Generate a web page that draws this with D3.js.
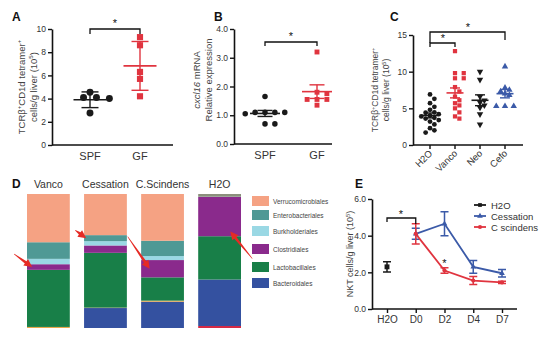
<!DOCTYPE html>
<html>
<head>
<meta charset="utf-8">
<script src="https://cdn.jsdelivr.net/npm/d3@7"></script>
<style>
body{margin:0;background:#fff}
svg{font-family:"Liberation Sans",Arial,sans-serif;display:block}
</style>
</head>
<body>
<div class="fig"></div>
<script>
//panel A data
var aGroups = ["SPF","GF"];
var aSPF = [4.55,4.1,4.1,4.0,2.75];
var aGF = [9.3,8.6,6.3,5.7,4.2];
var aTicks = [0,2,4,6,8,10];

//panel B data
var bGroups = ["SPF","GF"];
var bSPF = [1.65,1.1,1.1,1.1,1.1,1.05,0.7,0.7];
var bGF = [3.2,1.8,1.75,1.55,1.55,1.55,1.35];
var bTicks = [0,1,2,3,4];

//panel C data
var cGroups = ["H2O","Vanco","Neo","Cefo"];
var cH2O = [6.9,6.3,5.7,5.2,4.8,4.45,4.4,4.2,4.0,3.9,3.7,3.6,3.4,3.2,2.8,2.3,2.0,1.7];
var cVanco = [12.8,9.8,9.8,9.1,9.1,7.9,7.3,6.6,6.1,5.7,5.4,5.0,4.45,3.9,3.6];
var cNeo = [10.0,8.9,6.6,6.1,5.8,5.4,5.1,4.2,2.8];
var cCefo = [10.7,7.8,7.5,7.3,7.0,6.8,5.3,5.3,5.3];
var cTicks = [0,5,10,15];

//panel D data (percent, bottom to top)
var dGroups = ["Vanco","Cessation","C.Scindens","H2O"];
var dKeys = ["minorRed","Bacteroidales","minorOrange","Lactobacillales","Clostridiales","Burkholderiales","Enterobacteriales","Verrucomicrobiales","minorGray"];
var dVanco     = [0,   0,    0.8, 42.6, 4.2,  4.0, 12.4, 36.0, 0];
var dCessation = [0,   14.9, 0.3, 40.9, 5.5,  3.2, 4.5,  30.7, 0];
var dScindens  = [0,   19.6, 0.8, 17.4, 12.9, 3.0, 11.4, 34.9, 0];
var dH2O       = [1.5, 34.7, 0,   32.3, 29.3, 0,   0.2,  0,    2.0];
var dLegend = ["Verrucomicrobiales","Enterobacteriales","Burkholderiales","Clostridiales","Lactobacillales","Bacteroidales"];

//panel E data
var eDays = ["H2O","D0","D2","D4","D7"];
var eH2O = [2.3];
var eH2OErr = [0.28];
var eCessation = [4.1,4.65,2.3,1.95];
var eCessationErr = [0.3,0.65,0.35,0.2];
var eScindens = [4.1,2.1,1.55,1.45];
var eScindensErr = [0.55,0.15,0.22,0.06];
var eTicks = [0,2,4,6];

var RED = "#e0343f", BLUE = "#3b5aa8", BLACK = "#1a1a1a";
var colors = {
  minorRed:"#d42a45", Bacteroidales:"#3451a0", minorOrange:"#e8a64a",
  Lactobacillales:"#187f48", Clostridiales:"#8a2a8c", Burkholderiales:"#9ad8e4",
  Enterobacteriales:"#4f9995", Verrucomicrobiales:"#f5a283", minorGray:"#8b8f7c"
};

var W = 554, H = 339;
var svg = d3.select("div.fig").append("svg").attr("width", W).attr("height", H);
svg.append("rect").attr("width", W).attr("height", H).attr("fill", "#fff");

//rotated y label, parts: [text, "sup"|"it"|""]
function rotLabel(x, y, parts, size){
  var t = svg.append("text")
      .attr("transform", "translate(" + x + "," + y + ") rotate(-90)")
      .attr("text-anchor", "middle").attr("font-size", size).attr("fill", "#444");
  var up = false;
  parts.forEach(function(p){
    var s = t.append("tspan").text(p[0]);
    if(p[1] == "sup"){
      s.attr("font-size", size * 0.65).attr("dy", -size * 0.38);
      up = true;
    } else if(up){
      s.attr("dy", size * 0.38);
      up = false;
    }
    if(p[1] == "it") s.attr("font-style", "italic");
  });
}

function panelLetter(x, y, s){
  svg.append("text").attr("x", x).attr("y", y).attr("font-size", 12)
     .attr("font-weight", "bold").attr("fill", "#111").text(s);
}

//simple beeswarm offset so points don't overlap
function dodge(vals, y, r){
  var placed = [];
  return vals.map(function(v){
    var py = y(v), k = 0, dx = 0;
    while(k < 40){
      dx = (k % 2 == 1 ? 1 : -1) * Math.ceil(k / 2) * r * 1.9;
      var hit = placed.some(function(p){
        return (p[0] - dx) * (p[0] - dx) + (p[1] - py) * (p[1] - py) < (2 * r) * (2 * r);
      });
      if(!hit) break;
      k++;
    }
    placed.push([dx, py]);
    return dx;
  });
}

function yAxis(g, y, ax, ticks){
  var a = g.append("g").attr("transform", "translate(" + ax + ",0)")
     .call(d3.axisLeft(y).tickValues(ticks).tickSize(4).tickSizeOuter(0).tickPadding(2));
  a.select(".domain").attr("stroke", "#111").attr("stroke-width", 1.6);
  a.selectAll(".tick line").attr("stroke", "#111").attr("stroke-width", 1.4);
  a.selectAll(".tick text").attr("font-size", 8.5).attr("fill", "#333")
     .attr("font-family", "Liberation Sans, Arial, sans-serif");
  return a;
}

function bracket(x1, x2, yTop, l1, l2, sx, sy){
  svg.append("path")
     .attr("d", "M" + x1 + "," + l1 + "V" + yTop + "H" + x2 + "V" + l2)
     .attr("fill", "none").attr("stroke", "#111").attr("stroke-width", 1.3);
  svg.append("text").attr("x", sx).attr("y", sy).attr("text-anchor", "middle")
     .attr("font-size", 11).attr("fill", "#111").text("*");
}

function scatterPanel(o){
  var g = svg.append("g");
  var y = d3.scaleLinear().domain([0, o.max]).range([o.y0, o.y1]);
  var x = d3.scalePoint().domain(o.groups).range(o.xr);
  yAxis(g, y, o.ax, o.ticks);
  g.append("line").attr("x1", o.ax).attr("x2", o.axEnd).attr("y1", o.y0).attr("y2", o.y0)
   .attr("stroke", "#111").attr("stroke-width", 1.6);
  if(o.xTicks){
    g.selectAll(".xt").data(o.groups).enter().append("line")
     .attr("x1", function(d){ return x(d); }).attr("x2", function(d){ return x(d); })
     .attr("y1", o.y0).attr("y2", o.y0 + 4).attr("stroke", "#111").attr("stroke-width", 1.4);
  }
  o.groups.forEach(function(grp, i){
    var vals = o.data[i];
    var dx = dodge(vals, y, o.r);
    var sym = d3.symbol().type(o.shapes[i]).size(o.size);
    g.selectAll(".pt" + i).data(vals).enter().append("path")
     .attr("d", sym)
     .attr("transform", function(d, j){
       return "translate(" + (x(grp) + dx[j]) + "," + y(d) + ")" + (o.flip[i] ? " rotate(180)" : "");
     })
     .attr("fill", o.colors[i]);
    var m = d3.mean(vals);
    var e = d3.deviation(vals);
    if(o.err == "sem") e = e / Math.sqrt(vals.length);
    var cx = x(grp);
    g.append("line").attr("x1", cx - o.mw / 2).attr("x2", cx + o.mw / 2)
     .attr("y1", y(m)).attr("y2", y(m)).attr("stroke", o.colors[i]).attr("stroke-width", 1.6);
    g.append("line").attr("x1", cx).attr("x2", cx).attr("y1", y(m - e)).attr("y2", y(m + e))
     .attr("stroke", o.colors[i]).attr("stroke-width", 1.4);
    [m - e, m + e].forEach(function(v){
      g.append("line").attr("x1", cx - o.cw / 2).attr("x2", cx + o.cw / 2)
       .attr("y1", y(v)).attr("y2", y(v)).attr("stroke", o.colors[i]).attr("stroke-width", 1.4);
    });
  });
  return {x: x, y: y};
}

// ---------- A ----------
panelLetter(12, 21, "A");
var A = scatterPanel({
  groups: aGroups, data: [aSPF, aGF], max: 10, ticks: aTicks,
  y0: 145, y1: 29, xr: [90, 140], ax: 52, axEnd: 173,
  shapes: [d3.symbolCircle, d3.symbolSquare], flip: [false, false],
  colors: [BLACK, RED], size: 38, r: 3.4, err: "sd", mw: 33, cw: 17
});
svg.selectAll(".alab").data(aGroups).enter().append("text")
   .attr("x", function(d){ return A.x(d); }).attr("y", 160)
   .attr("text-anchor", "middle").attr("font-size", 11).attr("fill", "#333").text(function(d){ return d; });
rotLabel(25, 87, [["TCRβ",""],["+","sup"],["CD1d tetramer",""],["+","sup"]], 9.5);
rotLabel(37, 87, [["cells/g liver (10",""],["5","sup"],[")",""]], 9.5);
bracket(A.x("SPF"), A.x("GF"), 29, 34, 34, 115, 27);

// ---------- B ----------
panelLetter(214, 21, "B");
var B = scatterPanel({
  groups: bGroups, data: [bSPF, bGF], max: 4, ticks: bTicks,
  y0: 144, y1: 29, xr: [265, 317], ax: 234, axEnd: 332,
  shapes: [d3.symbolCircle, d3.symbolSquare], flip: [false, false],
  colors: [BLACK, RED], size: 24, r: 2.6, err: "sem", mw: 30, cw: 15
});
svg.selectAll(".blab").data(bGroups).enter().append("text")
   .attr("x", function(d){ return B.x(d); }).attr("y", 159)
   .attr("text-anchor", "middle").attr("font-size", 11).attr("fill", "#333").text(function(d){ return d; });
rotLabel(200, 80, [["cxcl16","it"],[" mRNA",""]], 9.5);
rotLabel(212, 80, [["Relative expression",""]], 9.5);
bracket(B.x("SPF"), B.x("GF"), 42, 46, 46, 291, 40);

// ---------- C ----------
panelLetter(390, 21, "C");
var C = scatterPanel({
  groups: cGroups, data: [cH2O, cVanco, cNeo, cCefo], max: 15, ticks: cTicks,
  y0: 145, y1: 35, xr: [430, 505], ax: 413, axEnd: 523, xTicks: true,
  shapes: [d3.symbolCircle, d3.symbolSquare, d3.symbolTriangle, d3.symbolTriangle],
  flip: [false, false, true, false],
  colors: [BLACK, RED, BLACK, BLUE], size: 18, r: 2.3, err: "sem", mw: 17, cw: 10
});
svg.selectAll(".clab").data(cGroups).enter().append("text")
   .attr("transform", function(d){ return "translate(" + (C.x(d) + 3) + ",154) rotate(-45)"; })
   .attr("text-anchor", "end").attr("font-size", 9.5).attr("fill", "#333").text(function(d){ return d; });
rotLabel(378, 90, [["TCRβ",""],["+","sup"],["CD1d tetramer",""],["+","sup"]], 8.5);
rotLabel(389, 90, [["cells/g liver (10",""],["5","sup"],[")",""]], 8.5);
bracket(C.x("H2O"), C.x("Cefo"), 32, 43, 40, 468, 31);
bracket(C.x("H2O"), C.x("Vanco"), 43, 47, 47, 443, 42);

// ---------- D ----------
panelLetter(12, 188, "D");
var dRows = dGroups.map(function(gname, i){
  var arr = [dVanco, dCessation, dScindens, dH2O][i];
  var row = {group: gname};
  dKeys.forEach(function(k, j){ row[k] = arr[j]; });
  return row;
});
var dx = d3.scaleBand().domain(dGroups).range([27, 241]).paddingInner(0.25).paddingOuter(0);
var dy = d3.scaleLinear().domain([0, 100]).range([328, 194]);
var stack = d3.stack().keys(dKeys)(dRows);
var gD = svg.append("g");
gD.selectAll(".layer").data(stack).enter().append("g")
  .attr("fill", function(d){ return colors[d.key]; })
  .selectAll("rect").data(function(d){ return d; }).enter().append("rect")
  .attr("x", function(d){ return dx(d.data.group); })
  .attr("width", dx.bandwidth())
  .attr("y", function(d){ return dy(d[1]); })
  .attr("height", function(d){ return Math.max(0, dy(d[0]) - dy(d[1])); });
gD.selectAll(".dh").data(dGroups).enter().append("text")
  .attr("x", function(d){ return dx(d) + dx.bandwidth() / 2; }).attr("y", 188)
  .attr("text-anchor", "middle").attr("font-size", 10.5).attr("fill", "#333")
  .text(function(d){ return d; });

//legend
var leg = svg.append("g").selectAll("g").data(dLegend).enter().append("g")
  .attr("transform", function(d, i){ return "translate(252," + [196, 210, 226, 244, 262, 278][i] + ")"; });
leg.append("rect").attr("width", 17).attr("height", 10).attr("fill", function(d){ return colors[d]; });
leg.append("text").attr("x", 21).attr("y", 7.5).attr("font-size", 6.5).attr("fill", "#444")
   .text(function(d){ return d; });

//red arrows pointing at segments
function segMid(group, key){
  var s = stack.find(function(l){ return l.key == key; });
  var d = s[dGroups.indexOf(group)];
  return (dy(d[0]) + dy(d[1])) / 2;
}
var arrows = [
  {g: "Vanco", key: "Clostridiales", fx: 0.12, tx: -18, ty: -13, sh: 0},
  {g: "Cessation", key: "Enterobacteriales", fx: 0.05, tx: -11, ty: -8, sh: 0},
  {g: "C.Scindens", key: "Clostridiales", fx: 0.2, tx: -22, ty: -32, sh: 0},
  {g: "H2O", key: "Clostridiales", fx: 0.75, tx: 22, ty: 27, sh: 15}
];
var gA = svg.append("g");
arrows.forEach(function(a){
  var tipX = dx(a.g) + a.fx * dx.bandwidth();
  var tipY = segMid(a.g, a.key) + a.sh;
  var sx = tipX + a.tx, sy = tipY + a.ty;
  var ang = Math.atan2(tipY - sy, tipX - sx);
  var hl = 8, hw = 4;
  var bx = tipX - hl * Math.cos(ang), by = tipY - hl * Math.sin(ang);
  var px = -Math.sin(ang), py = Math.cos(ang);
  //tapered shaft plus head
  gA.append("path")
    .attr("d", "M" + (sx + px * 0.3) + "," + (sy + py * 0.3) +
               "L" + (bx + px * 1.4) + "," + (by + py * 1.4) +
               "L" + (bx + px * hw) + "," + (by + py * hw) +
               "L" + tipX + "," + tipY +
               "L" + (bx - px * hw) + "," + (by - py * hw) +
               "L" + (bx - px * 1.4) + "," + (by - py * 1.4) +
               "L" + (sx - px * 0.3) + "," + (sy - py * 0.3) + "Z")
    .attr("fill", "#e52b25");
});

// ---------- E ----------
panelLetter(355, 188, "E");
var ex = d3.scalePoint().domain(eDays).range([387, 502]);
var ey = d3.scaleLinear().domain([0, 6]).range([309, 199]);
var gE = svg.append("g");
yAxis(gE, ey, 372, eTicks);
gE.append("line").attr("x1", 372).attr("x2", 517).attr("y1", 309).attr("y2", 309)
  .attr("stroke", "#111").attr("stroke-width", 1.6);
var xa = gE.append("g").attr("transform", "translate(0,309)")
  .call(d3.axisBottom(ex).tickSize(4).tickSizeOuter(0).tickPadding(3));
xa.select(".domain").remove();
xa.selectAll(".tick line").attr("stroke", "#111").attr("stroke-width", 1.4);
xa.selectAll(".tick text").attr("font-size", 10).attr("fill", "#333")
  .attr("font-family", "Liberation Sans, Arial, sans-serif");
rotLabel(353, 254, [["NKT cells/g liver (10",""],["5","sup"],[")",""]], 9);

function series(vals, errs, days, color, shape, size){
  var pts = vals.map(function(v, i){ return {d: days[i], v: v, e: errs[i]}; });
  var line = d3.line().x(function(p){ return ex(p.d); }).y(function(p){ return ey(p.v); });
  gE.append("path").datum(pts).attr("d", line).attr("fill", "none")
    .attr("stroke", color).attr("stroke-width", 1.8);
  pts.forEach(function(p){
    var cx = ex(p.d);
    gE.append("path").attr("d", "M" + cx + "," + ey(p.v - p.e) + "V" + ey(p.v + p.e) +
        "M" + (cx - 4) + "," + ey(p.v - p.e) + "h8M" + (cx - 4) + "," + ey(p.v + p.e) + "h8")
      .attr("stroke", color).attr("stroke-width", 1.5).attr("fill", "none");
    gE.append("path").attr("d", d3.symbol().type(shape).size(size))
      .attr("transform", "translate(" + cx + "," + ey(p.v) + ")").attr("fill", color);
  });
}
series(eCessation, eCessationErr, eDays.slice(1), BLUE, d3.symbolTriangle, 14);
series(eScindens, eScindensErr, eDays.slice(1), RED, d3.symbolCircle, 14);
series(eH2O, eH2OErr, ["H2O"], BLACK, d3.symbolSquare, 24);

bracket(ex("H2O"), ex("D0"), 218, 222, 224, 401, 218);
gE.append("text").attr("x", ex("D2")).attr("y", 267).attr("text-anchor", "middle")
  .attr("font-size", 11).attr("fill", "#111").text("*");

//legend E
var eLeg = [["H2O", BLACK, d3.symbolSquare], ["Cessation", BLUE, d3.symbolTriangle], ["C scindens", RED, d3.symbolCircle]];
var el = svg.append("g").selectAll("g").data(eLeg).enter().append("g")
  .attr("transform", function(d, i){ return "translate(474," + (205 + i * 11) + ")"; });
el.append("line").attr("x1", 0).attr("x2", 12).attr("stroke", function(d){ return d[1]; }).attr("stroke-width", 1.8);
el.append("path").attr("d", function(d){ return d3.symbol().type(d[2]).size(14)(); })
  .attr("transform", "translate(6,0)").attr("fill", function(d){ return d[1]; });
el.append("text").attr("x", 17).attr("y", 3.5).attr("font-size", 9.5).attr("fill", "#333")
  .text(function(d){ return d[0]; });
</script>
</body>
</html>
